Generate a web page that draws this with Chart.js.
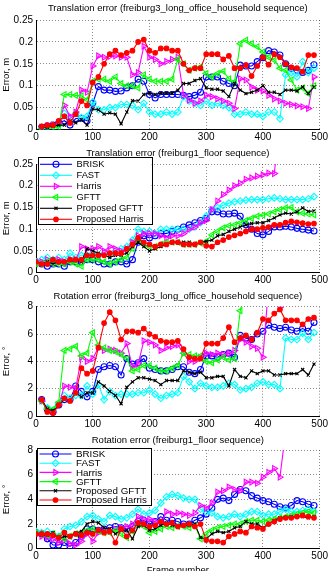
<!DOCTYPE html>
<html lang="en">
<head>
  <meta charset="UTF-8" />
  <title>Translation and rotation error</title>
  <script src="https://cdn.jsdelivr.net/npm/chart.js"></script>
  <style>
    body { margin: 0; background: #fff; overflow: hidden; }
    #wrap { position: relative; width: 330px; height: 571px; }
    canvas { position: absolute; left: 0; }
  </style>
</head>
<body>
  <div id="wrap">
    <canvas id="c1" width="330" height="143" style="top:0px"></canvas>
    <canvas id="c2" width="330" height="143" style="top:143px"></canvas>
    <canvas id="c3" width="330" height="145" style="top:284px"></canvas>
    <canvas id="c4" width="330" height="150" style="top:429px"></canvas>
  </div>

  <script>
    // frame numbers
    const framesOffice = [10,20,30,40,50,60,70,80,90,100,110,120,130,140,150,160,170,180,190,200,
      210,220,230,240,250,260,270,280,290,300,310,320,330,340,350,360,370,380,390,400,
      410,420,430,440,450,460,470,480,490];
    const framesFloor = [0,10,20,30,40,50,60,70,80,90,100,110,120,130,140,150,160,170,180,190,
      200,210,220,230,240,250,260,270,280,290,300,310,320,330,340,350,360,370,380,390,
      400,410,420,430,440,450,460,470,480,490];

    const seriesNames = ['BRISK', 'FAST', 'Harris', 'GFTT', 'Proposed GFTT', 'Proposed Harris'];

    // Translation error, freiburg3_long_office_household (m)
    const transOfficeBrisk = [.005,.008,.01,.015,.02,.01,.025,.025,.02,.06, .098,.09,.09,.087,.088,.095,.1,.115,.11,.08,
      .072,.08,.08,.08,.08,.078,.075,.078,.085,.12, .12,.12,.11,.105,.1,.147,.145,.145,.155,.164, .18,.177,.17,.15,.14,.135,.13,.135,.148];
    const transOfficeFast = [.003,.005,.008,.01,.037,.025,.037,.027,.03,.063, .045,.045,.05,.05,.057,.057,.055,.045,.06,.04,
      .035,.035,.04,.035,.04,.075,.065,.06,.055,.065, .055,.06,.055,.05,.035,.035,.04,.035,.035,.03, .04,.04,.025,.125,.13,.12,.155,.13,.14];
    const transOfficeHarris = [.005,.008,.01,.015,.055,.03,.04,.09,.085,.145, .168,.165,.167,.168,.165,.165,.125,.13,.19,.165,
      .16,.15,.155,.16,.165,.078,.067,.06,.065,.078, .075,.07,.065,.06,.048,.116,.113,.097,.09,.088, .078,.07,.065,.06,.057,.054,.052,.048,.12];
    const transOfficeGftt = [.003,.005,.005,.005,.08,.08,.078,.077,.068,.11, .115,.115,.11,.12,.105,.1,.1,.095,.125,.115,
      .11,.11,.11,.115,.16,.15,.135,.14,.143,.128, .12,.128,.133,.116,.109,.196,.204,.196,.189,.177, .165,.158,.14,.135,.113,.09,.095,.082,.1];
    const transOfficePGftt = [.005,.005,.008,.01,.01,.02,.015,.022,.01,.047, .045,.035,.038,.035,.013,.04,.066,.065,.08,.083,
      .08,.083,.083,.083,.09,.105,.105,.112,.116,.095, .092,.092,.088,.075,.105,.09,.082,.085,.09,.1, .085,.085,.08,.09,.09,.088,.097,.082,.097];
    const transOfficePHarris = [.007,.01,.01,.02,.03,.015,.035,.065,.055,.107, .12,.15,.172,.18,.17,.175,.18,.2,.205,.18,
      .175,.185,.185,.18,.18,.15,.135,.14,.14,.172, .172,.172,.16,.168,.14,.14,.147,.122,.145,.165, .148,.172,.165,.15,.142,.14,.132,.17,.17];

    // Translation error, freiburg1_floor (m)
    const transFloorBrisk = [.025,.02,.015,.02,.02,.015,.025,.025,.025,.03, .03,.025,.02,.02,.025,.025,.02,.03,.07,.085,
      .08,.085,.09,.09,.095,.1,.105,.11,.115,.12, .125,.14,.14,.135,.135,.137,.13,.11,.1,.09, .087,.095,.105,.105,.107,.105,.102,.1,.098,.096];
    const transFloorFast = [.025,.03,.035,.03,.035,.03,.045,.035,.04,.04, .045,.04,.045,.04,.05,.055,.06,.075,.1,.095,
      .095,.09,.1,.1,.1,.1,.1,.1,.105,.115, .13,.145,.15,.155,.16,.163,.165,.167,.168,.168, .168,.17,.172,.17,.168,.168,.168,.168,.17,.175];
    const transFloorHarris = [.02,.025,.03,.025,.03,.025,.03,.03,.06,.055, .055,.06,.05,.06,.055,.05,.055,.07,.085,.09,
      .09,.09,.085,.08,.085,.085,.09,.1,.105,.115, .12,.145,.165,.18,.19,.2,.206,.215,.218,.222, .225,.229,.228,.35,null,null,null,null,null,null];
    const transFloorGftt = [.02,.02,.025,.02,.02,.02,.025,.02,.015,.03, .03,.03,.025,.02,.025,.03,.035,.055,.075,.065,
      .06,.06,.065,.07,.07,.07,.065,.065,.065,.068, .072,.087,.095,.103,.108,.11,.115,.12,.125,.13, .132,.135,.14,.145,.149,.15,.14,.137,.135,.133];
    const transFloorPGftt = [.025,.02,.025,.02,.025,.025,.03,.03,.025,.055, .05,.045,.04,.035,.04,.04,.045,.06,.07,.06,
      .05,.055,.06,.065,.07,.07,.07,.07,.065,.07, .072,.075,.085,.088,.095,.1,.105,.11,.113,.115, .115,.12,.126,.133,.137,.135,.14,.149,.141,.142];
    const transFloorPHarris = [.025,.02,.02,.03,.025,.025,.03,.03,.03,.04, .04,.04,.04,.045,.045,.045,.055,.065,.08,.07,
      .065,.06,.065,.065,.07,.07,.065,.065,.065,.07, .062,.06,.07,.075,.082,.086,.09,.095,.1,.1, .103,.105,.11,.11,.115,.118,.116,.114,.112,.113];

    // Rotation error, freiburg3_long_office_household (deg)
    const rotOfficeBrisk = [1.2,.5,.3,.8,1.2,1.2,2.2,1.8,1.4,1.8, 3.4,3.6,3.7,3.6,3.0,4.2,3.8,3.9,4.2,3.5,
      3.4,3.3,3.3,3.4,3.6,3.6,3.2,3.1,3.4,4.4, 4.4,4.3,4.5,4.6,4.3,5.9,5.7,5.6,6.0,6.2, 6.65,6.5,6.4,6.5,6.3,6.2,6.4,6.2,6.85];
    const rotOfficeFast = [1.1,.6,.4,.9,1.5,1.3,1.5,1.5,2.2,1.6, 2.3,1.2,1.8,1.5,1.6,1.6,1.6,1.7,1.7,1.9,
      1.6,1.3,1.5,1.6,1.7,2.9,2.5,2.0,2.4,2.2, 2.1,2.1,2.2,2.4,2.3,1.9,2.0,2.1,2.4,2.5, 2.3,2.3,2.0,5.7,5.6,5.6,6.05,5.6,6.1];
    const rotOfficeHarris = [1.1,.5,.3,.8,2.2,2.1,2.0,4.3,4.0,4.2, 5.0,4.8,4.9,4.8,4.6,5.3,3.6,3.8,5.5,5.4,
      5.2,4.8,5.0,5.1,5.2,4.6,4.0,4.0,4.3,4.6, 4.5,4.6,4.5,4.6,4.8,5.6,5.4,5.1,4.95,4.3, 9.5,9.5,7.95,null,null,null,null,null,null];
    const rotOfficeGftt = [1.1,.5,.5,1.0,4.8,4.9,5.1,4.4,4.6,6.1, 5.2,5.0,4.8,4.7,4.5,4.2,3.3,3.4,3.7,3.7,
      3.5,3.3,3.3,3.5,3.7,4.6,4.5,4.4,4.4,4.0, 3.9,4.1,4.3,4.1,4.2,7.7,9.5,null,null,null, null,null,null,null,null,null,null,null,null];
    const rotOfficePGftt = [1.2,.5,.4,.7,1.3,1.1,1.7,1.4,1.7,1.7, 2.5,2.2,1.8,1.5,.9,2.1,2.5,2.8,2.8,2.7,
      2.6,2.3,2.6,2.6,2.6,3.3,3.2,3.1,3.2,2.8, 2.8,2.9,2.9,2.2,3.4,2.9,2.8,3.3,3.1,3.3, 3.3,3.0,3.0,3.1,3.1,3.1,3.4,3.0,3.8];
    const rotOfficePHarris = [1.2,.3,.2,.8,1.3,1.1,1.7,3.5,3.1,3.3, 5.0,6.8,7.6,7.0,5.6,6.2,6.2,6.1,6.4,6.0,
      5.8,5.5,5.4,5.4,5.5,4.9,4.3,4.2,4.2,5.3, 5.3,5.3,5.7,6.5,5.4,5.7,5.9,5.6,6.1,7.1, 7.0,7.5,7.8,7.0,7.0,7.0,6.7,7.1,7.2];

    // Rotation error, freiburg1_floor (deg)
    const rotFloorBrisk = [1.3,1.2,.8,.3,.3,.5,.2,.5,1.0,1.6, 1.6,1.5,1.6,1.7,1.8,1.7,1.6,1.8,2.2,2.3,
      2.0,2.2,2.6,2.3,2.3,2.2,2.0,2.0,2.3,2.5, 2.8,3.3,4.0,4.1,3.9,4.4,4.8,4.7,4.3,4.1, 3.9,3.8,3.6,3.4,3.3,3.5,3.9,3.8,3.6,3.5];
    const rotFloorFast = [1.4,1.3,1.4,1.2,1.0,1.6,1.8,1.9,2.2,2.6, 2.7,2.4,2.2,2.7,2.6,2.4,2.5,2.8,3.2,2.8,
      2.9,3.1,3.7,4.2,4.4,4.3,4.1,4.0,4.0,3.2, 3.0,2.9,2.6,2.5,2.6,2.8,2.6,2.8,3.0,3.0, 2.7,2.8,2.8,3.0,3.2,3.0,3.0,3.1,3.2,3.0];
    const rotFloorHarris = [1.2,1.0,.9,.8,.5,.7,.4,.3,.6,1.2, .6,1.3,1.5,1.4,1.6,1.7,1.8,2.0,2.6,2.4,
      2.4,2.2,2.0,3.0,2.8,2.9,2.8,2.7,2.9,3.5, 3.3,3.7,4.6,4.7,5.0,4.8,4.7,5.4,5.4,5.3, 5.8,6.2,6.5,5.8,9.5,null,null,null,null,null];
    const rotFloorGftt = [1.3,1.2,1.1,1.2,1.0,.8,1.0,1.2,1.3,1.5, 1.6,1.4,1.3,1.3,1.5,1.2,.9,1.4,2.0,1.8,
      1.3,1.4,1.6,1.8,1.7,1.8,1.8,1.7,1.9,.8, 1.2,1.5,1.7,1.8,1.9,2.0,2.0,2.2,2.3,2.3, 2.2,2.3,2.4,2.5,2.6,2.7,2.8,2.9,3.0,2.9];
    const rotFloorPGftt = [1.2,1.1,1.1,1.3,.8,1.0,1.0,1.3,1.4,2.0, 2.2,2.1,1.7,1.6,1.2,1.5,1.5,.8,1.8,1.9,
      1.5,1.6,1.9,2.1,1.9,1.8,1.9,1.9,2.0,.9, .8,1.2,1.4,1.3,1.4,1.7,1.8,2.2,2.0,2.0, 1.7,2.0,2.3,2.5,2.5,2.6,2.6,2.6,2.5,2.6];
    const rotFloorPHarris = [1.2,1.2,1.2,1.1,.9,1.3,1.0,1.2,1.1,1.3, 1.2,1.5,1.3,1.4,.5,1.6,1.0,1.5,2.1,2.0,
      1.8,1.9,2.2,2.0,2.1,1.8,1.9,2.0,1.8,2.0, .7,.6,.6,.5,1.0,1.2,1.4,1.3,1.8,1.7, 1.6,2.0,2.2,2.4,2.5,2.5,2.6,2.7,2.6,2.5];

    const seriesColors = ['#0000ff', '#00ffff', '#ff00ff', '#00ff00', '#000000', '#ff0000'];
    const markers = [
      { style: 'circle', rot: 0, r: 3, fill: 'rgba(0,0,0,0)' },
      { style: 'rectRot', rot: 0, r: 3.3, fill: 'rgba(0,0,0,0)' },
      { style: 'triangle', rot: 90, r: 3.3, fill: 'rgba(0,0,0,0)' },
      { style: 'triangle', rot: -90, r: 3.3, fill: 'rgba(0,0,0,0)' },
      { style: 'crossRot', rot: 0, r: 2.2, fill: '#000000' },
      { style: 'circle', rot: 0, r: 2.3, fill: '#ff0000' }
    ];

    const FONT = '"Liberation Sans", Arial, sans-serif';
    Chart.defaults.font.family = FONT;
    Chart.defaults.font.size = 10;
    Chart.defaults.color = '#000';

    function buildSets(frames, list) {
      return list.map((vals, i) => ({
        label: seriesNames[i],
        data: frames.map((x, j) => ({ x: x, y: vals[j] })),
        borderColor: seriesColors[i],
        borderWidth: 1.1,
        pointStyle: markers[i].style,
        pointRotation: markers[i].rot,
        pointRadius: markers[i].r,
        pointBorderWidth: 1.1,
        pointBorderColor: seriesColors[i],
        pointBackgroundColor: markers[i].fill,
        fill: false,
        tension: 0,
        order: 6 - i
      }));
    }

    // legend box drawn inside the axes, like the original figure
    const insetLegend = {
      id: 'insetLegend',
      afterDatasetsDraw(chart, args, o) {
        const ctx = chart.ctx;
        const x0 = chart.chartArea.left + o.x;
        const y0 = chart.chartArea.top + o.y;
        ctx.save();
        ctx.fillStyle = '#fff';
        ctx.fillRect(x0, y0, o.w, o.h);
        ctx.strokeStyle = '#000';
        ctx.lineWidth = 1;
        ctx.strokeRect(Math.round(x0) + 0.5, Math.round(y0) + 0.5, Math.round(o.w), Math.round(o.h));
        chart.data.datasets.forEach((ds, i) => {
          const y = y0 + o.first + i * o.row;
          ctx.strokeStyle = ds.borderColor;
          ctx.lineWidth = 1.1;
          ctx.beginPath();
          ctx.moveTo(x0 + 2.5, y);
          ctx.lineTo(x0 + 34.5, y);
          ctx.stroke();
          if (Chart.helpers && Chart.helpers.drawPoint) {
            ctx.fillStyle = ds.pointBackgroundColor;
            Chart.helpers.drawPoint(ctx, {
              pointStyle: ds.pointStyle, rotation: ds.pointRotation,
              radius: ds.pointRadius, borderWidth: 1.1
            }, x0 + 18.5, y);
          }
          ctx.fillStyle = '#000';
          ctx.font = o.fontSize + 'px ' + FONT;
          ctx.textBaseline = 'middle';
          ctx.textAlign = 'left';
          ctx.fillText(ds.label, x0 + 39, y + 0.5);
        });
        ctx.restore();
      }
    };

    function makeChart(id, c) {
      new Chart(document.getElementById(id), {
        type: 'line',
        data: { datasets: buildSets(c.frames, c.series) },
        options: {
          responsive: false,
          animation: false,
          events: [],
          layout: { padding: { left: 0, right: 10, top: 0, bottom: 0 } },
          plugins: {
            legend: { display: false },
            tooltip: { enabled: false },
            title: {
              display: true, text: c.title, fullSize: false, color: '#000',
              font: { size: 9.5, weight: 'normal' },
              padding: c.titlePad
            },
            insetLegend: c.legend || {}
          },
          scales: {
            x: {
              type: 'linear', min: 0, max: 500,
              ticks: { stepSize: 100, padding: 2, maxRotation: 0 },
              grid: { color: 'rgba(0,0,0,0.45)', drawTicks: false },
              border: { display: true, color: '#000', width: 1, dash: [1, 2] },
              title: c.xTitle ? { display: true, text: c.xTitle, font: { size: 9.5 }, padding: { top: 0, bottom: 3.3 } } : { display: false },
              afterFit(s) { s.height = c.xHeight; }
            },
            y: {
              min: 0, max: c.yMax,
              ticks: { stepSize: c.yStep, padding: 3, callback: v => String(parseFloat(v.toFixed(2))) },
              grid: { color: 'rgba(0,0,0,0.45)', drawTicks: false },
              border: { display: true, color: '#000', width: 1, dash: [1, 2] },
              title: { display: true, text: c.yTitle, font: { size: 9.5 }, padding: { top: 1, bottom: 0 } },
              afterFit(s) { s.width = 36; }
            }
          }
        },
        plugins: c.legend ? [insetLegend] : []
      });
    }

    makeChart('c1', {
      title: 'Translation error (freiburg3_long_office_household sequence)',
      titlePad: { top: 3, bottom: 5.6 },
      frames: framesOffice,
      series: [transOfficeBrisk, transOfficeFast, transOfficeHarris, transOfficeGftt, transOfficePGftt, transOfficePHarris],
      yMax: 0.25, yStep: 0.05, yTitle: 'Error, m', xHeight: 13.5
    });

    makeChart('c2', {
      title: 'Translation error (freiburg1_floor sequence)',
      titlePad: { top: 4.5, bottom: 5.1 },
      frames: framesFloor,
      series: [transFloorBrisk, transFloorFast, transFloorHarris, transFloorGftt, transFloorPGftt, transFloorPHarris],
      yMax: 0.25, yStep: 0.05, yTitle: 'Error, m', xHeight: 13.3,
      legend: { x: 1.5, y: -7.3, w: 114, h: 67, first: 7.6, row: 11, fontSize: 9.3 }
    });

    makeChart('c3', {
      title: 'Rotation error (freiburg3_long_office_household sequence)',
      titlePad: { top: 6.2, bottom: 5.1 },
      frames: framesOffice,
      series: [rotOfficeBrisk, rotOfficeFast, rotOfficeHarris, rotOfficeGftt, rotOfficePGftt, rotOfficePHarris],
      yMax: 8, yStep: 2, yTitle: 'Error, \u00b0', xHeight: 13
    });

    makeChart('c4', {
      title: 'Rotation error (freiburg1_floor sequence)',
      titlePad: { top: 5.3, bottom: 4.3 },
      frames: framesFloor,
      series: [rotFloorBrisk, rotFloorFast, rotFloorHarris, rotFloorGftt, rotFloorPGftt, rotFloorPHarris],
      yMax: 8, yStep: 2, yTitle: 'Error, \u00b0', xHeight: 30.3, xTitle: 'Frame number',
      legend: { x: 1, y: -2, w: 114, h: 57, first: 6, row: 9.2, fontSize: 9.8 }
    });
  </script>
</body>
</html>
